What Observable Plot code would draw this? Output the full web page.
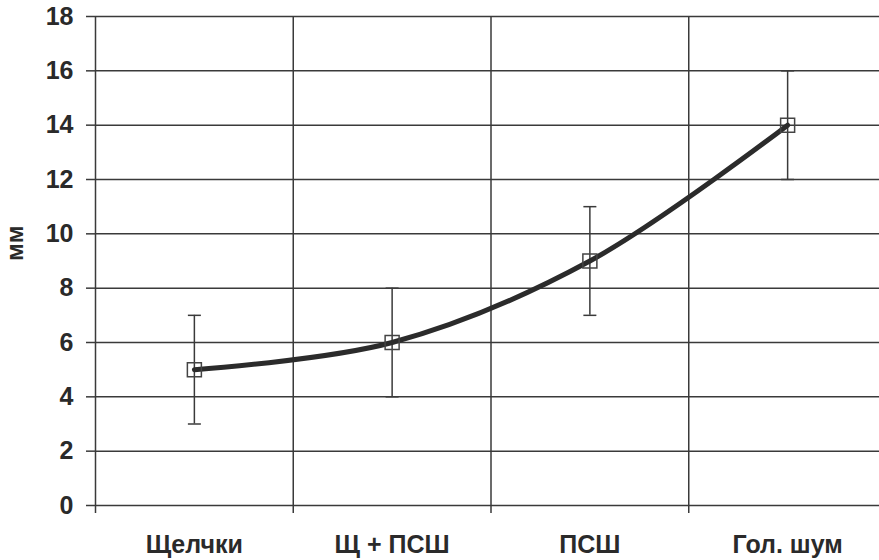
<!DOCTYPE html>
<html>
<head>
<meta charset="utf-8">
<script src="https://cdn.jsdelivr.net/npm/d3@7"></script>
<script src="https://cdn.jsdelivr.net/npm/@observablehq/plot@0.6"></script>
<style>
  html, body { margin: 0; padding: 0; background: #fff; overflow: hidden; }
  #chart { width: 879px; height: 560px; overflow: hidden; }
</style>
</head>
<body>
<div id="chart"></div>
<script>
const categories = ["Щелчки", "Щ + ПСШ", "ПСШ", "Гол. шум"];
const means = [5, 6, 9, 14];
const lows = [3, 4, 7, 12];
const highs = [7, 8, 11, 16];
const yTicks = [0, 2, 4, 6, 8, 10, 12, 14, 16, 18];
const yLabel = "мм";

const data = categories.map((c, i) => ({
  cat: c, pos: i + 0.5, v: means[i], lo: lows[i], hi: highs[i]
}));
const edges = d3.range(categories.length + 1);
const inner = edges.slice(1);

const capSymbol = {
  draw(context, size) {
    const r = Math.sqrt(size / Math.PI);
    context.moveTo(-r, 0);
    context.lineTo(r, 0);
  }
};

const ink = "#3a3a3a";
const font = "'Liberation Sans', Arial, sans-serif";

const chart = Plot.plot({
  width: 879,
  height: 560,
  marginTop: 16,
  marginBottom: 55,
  marginLeft: 95,
  marginRight: 0,
  style: { fontFamily: font, background: "#fff", color: "#2a2a2a" },
  x: { domain: [0, categories.length], range: [95, 886], label: null },
  y: { domain: [0, 18], label: null },
  marks: [
    Plot.ruleY(yTicks, { stroke: ink, strokeWidth: 1.5 }),
    Plot.ruleX(inner, { y1: 0, y2: 18, stroke: ink, strokeWidth: 1.5 }),
    Plot.ruleX([0], { y1: 0, y2: 18, stroke: ink, strokeWidth: 1.5 }),
    Plot.axisX({ ticks: edges, tickSize: 8, tickFormat: () => "", label: null, stroke: ink, strokeWidth: 1.5 }),
    Plot.axisX({
      ticks: data.map(d => d.pos), tickSize: 0, tickPadding: 30,
      tickFormat: (d) => categories[Math.floor(d)],
      fontSize: 25, fontWeight: "bold", label: null, fill: "#2a2a2a"
    }),
    Plot.axisY({
      ticks: yTicks, tickSize: 9, tickPadding: 13, fontSize: 25, fontWeight: "bold",
      label: null, stroke: ink, strokeWidth: 1.5, fill: "#2a2a2a"
    }),
    Plot.text([yLabel], {
      frameAnchor: "left", rotate: -90, dx: -80, dy: 0,
      fontSize: 24, fontWeight: "bold", fill: "#2a2a2a"
    }),
    Plot.ruleX(data, { x: "pos", y1: "lo", y2: "hi", stroke: ink, strokeWidth: 1.5 }),
    Plot.dot(data, { x: "pos", y: "lo", symbol: capSymbol, r: 6.5, stroke: ink, strokeWidth: 1.5 }),
    Plot.dot(data, { x: "pos", y: "hi", symbol: capSymbol, r: 6.5, stroke: ink, strokeWidth: 1.5 }),
    Plot.line(data, { x: "pos", y: "v", curve: "catmull-rom", stroke: "#2b2b2b", strokeWidth: 5 }),
    Plot.dot(data, { x: "pos", y: "v", symbol: "square", r: 7.9, stroke: "#444", strokeWidth: 1.5, fill: "none" })
  ]
});
document.getElementById("chart").appendChild(chart);
</script>
</body>
</html>
